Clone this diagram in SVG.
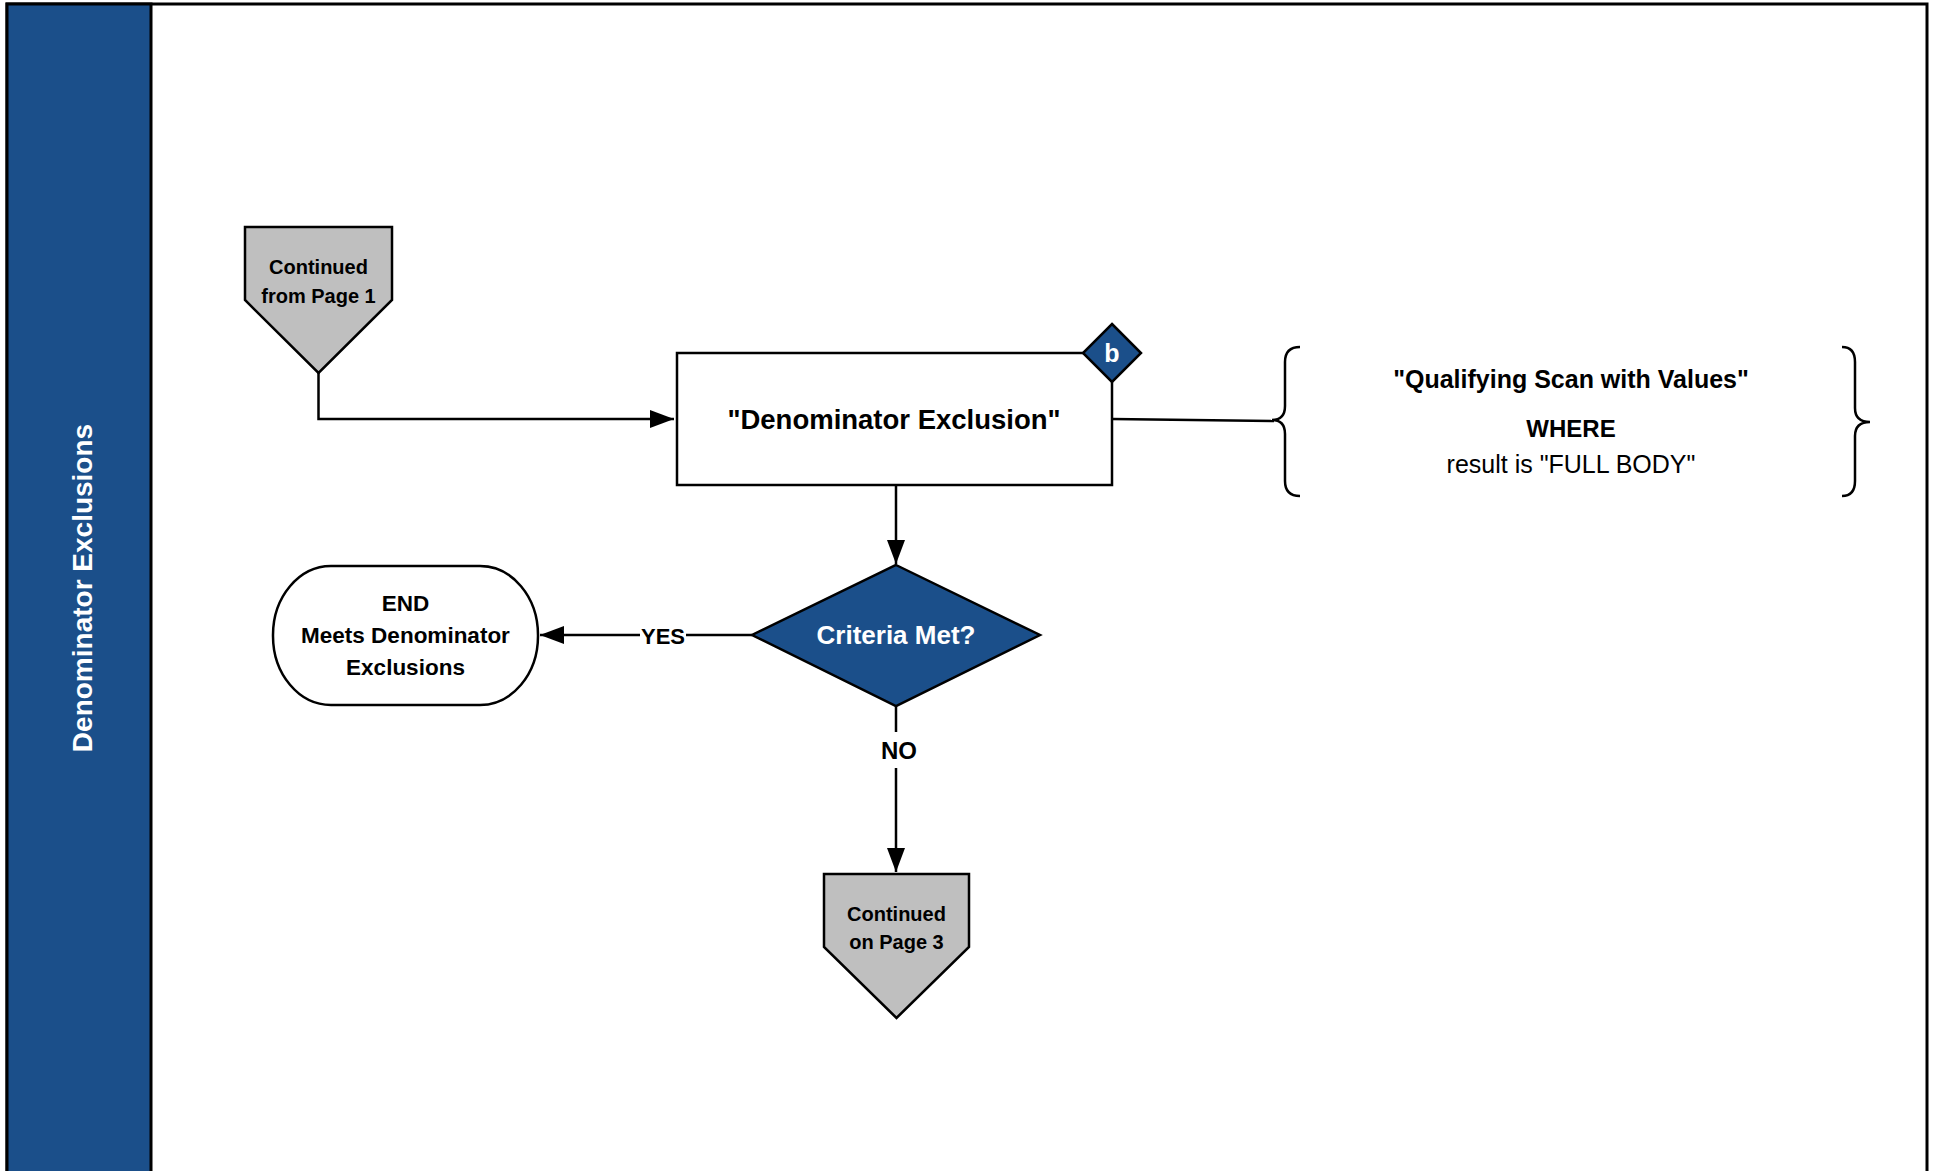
<svg xmlns="http://www.w3.org/2000/svg" width="1935" height="1171" viewBox="0 0 1935 1171">
<style>
.ln{fill:none;stroke:#000;stroke-width:2.5}
.sh{stroke:#000;stroke-width:2.5}
.t{font-family:"Liberation Sans",Arial,sans-serif;font-weight:bold;fill:#000;text-anchor:middle}
.w{fill:#fff}
.r{font-weight:normal}
</style>
<defs>
<marker id="ah" viewBox="0 0 24 18" refX="24" refY="9" markerWidth="24" markerHeight="18" markerUnits="userSpaceOnUse" orient="auto">
<path d="M0,0 L24,9 L0,18 Z" fill="#000"/>
</marker>
</defs>
<rect x="0" y="0" width="1935" height="1171" fill="#fff"/>
<g id="frame">
<rect x="7" y="4" width="1920" height="1190" fill="#fff" stroke="#000" stroke-width="3"/>
<rect x="7" y="4" width="144" height="1190" fill="#1B4F8A" stroke="#000" stroke-width="3"/>
<text class="t w" x="92" y="588" font-size="28" transform="rotate(-90 92 588)">Denominator Exclusions</text>
</g>
<g id="connectors">
<path class="ln" d="M318.5,373 L318.5,419 L674,419" marker-end="url(#ah)"/>
<path class="ln" d="M1112,419 L1274,421"/>
<path class="ln" d="M896,485 L896,564" marker-end="url(#ah)"/>
<path class="ln" d="M752,635 L540,635" marker-end="url(#ah)"/>
<rect x="640" y="622" width="46" height="26" fill="#fff"/>
<text class="t" x="663" y="644" font-size="22">YES</text>
<path class="ln" d="M896,706 L896,872" marker-end="url(#ah)"/>
<rect x="876" y="732" width="44" height="36" fill="#fff"/>
<text class="t" x="899" y="759" font-size="24">NO</text>
</g>
<g id="continued-from-page-1">
<polygon class="sh" points="245,227 392,227 392,300 318.5,373 245,300" fill="#BFBFBF"/>
<text class="t" x="318.5" y="274" font-size="20">Continued</text>
<text class="t" x="318.5" y="303" font-size="20">from Page 1</text>
</g>
<g id="denominator-exclusion">
<rect class="sh" x="677" y="353" width="435" height="132" fill="#fff"/>
<text class="t" x="894" y="429" font-size="27.5">"Denominator Exclusion"</text>
<polygon class="sh" points="1112,324 1141,353 1112,382 1083,353" fill="#1B4F8A"/>
<text class="t w" x="1112" y="362" font-size="25">b</text>
</g>
<g id="definition">
<path class="ln" d="M1300,347 Q1285,347 1285,362 L1285,406 Q1285,420 1272,420 Q1285,420 1285,434 L1285,481 Q1285,496 1300,496"/>
<path class="ln" d="M1842,347 Q1855,347 1855,362 L1855,408 Q1855,422 1870,422 Q1855,422 1855,436 L1855,481 Q1855,496 1842,496"/>
<text class="t" x="1571" y="388" font-size="25">"Qualifying Scan with Values"</text>
<text class="t" x="1571" y="437" font-size="24">WHERE</text>
<text class="t r" x="1571" y="473" font-size="25">result is "FULL BODY"</text>
</g>
<g id="criteria-met">
<polygon class="sh" points="896,565 1040,635 896,706 752,635" fill="#1B4F8A"/>
<text class="t w" x="896" y="644" font-size="26">Criteria Met?</text>
</g>
<g id="end">
<rect class="sh" x="273" y="566" width="265" height="139" rx="58" ry="69" fill="#fff"/>
<text class="t" x="405.5" y="611" font-size="22.5">END</text>
<text class="t" x="405.5" y="643" font-size="22.5">Meets Denominator</text>
<text class="t" x="405.5" y="675" font-size="22.5">Exclusions</text>
</g>
<g id="continued-on-page-3">
<polygon class="sh" points="824,874 969,874 969,947 896.5,1018 824,947" fill="#BFBFBF"/>
<text class="t" x="896.5" y="921" font-size="20">Continued</text>
<text class="t" x="896.5" y="949" font-size="20">on Page 3</text>
</g>
</svg>
